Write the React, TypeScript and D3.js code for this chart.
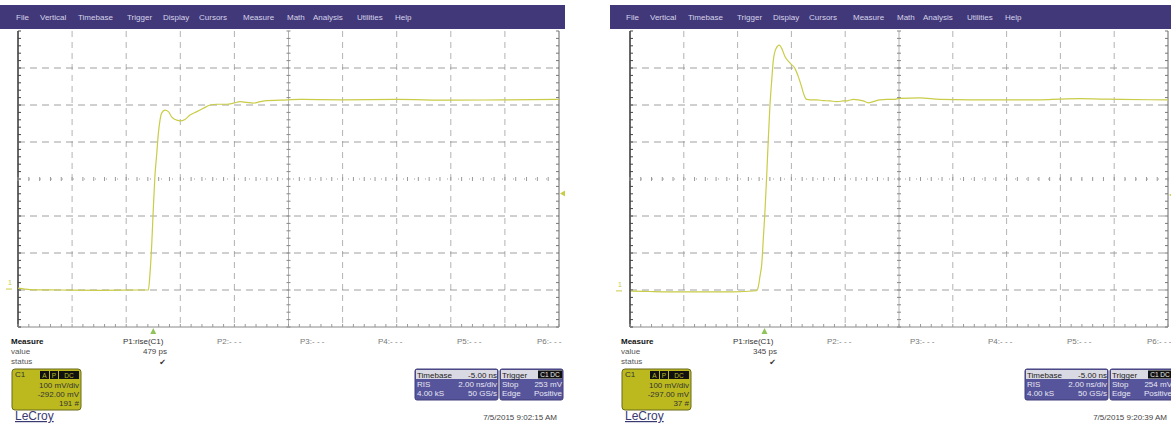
import React from "react";
import * as d3 from "d3";

const menuItems = ["File", "Vertical", "Timebase", "Trigger", "Display", "Cursors", "Measure", "Math", "Analysis", "Utilities", "Help"];
const menuX = [16, 40, 78, 127, 163, 199, 243, 287, 313, 357, 395];

// Left capture (time in ns relative to trigger, voltage in mV)
const leftTimeNs = [-5.0, -4.56, -3.45, -1.97, -0.49, -0.18, -0.12, -0.06, 0.0, 0.06, 0.13, 0.19, 0.25, 0.31, 0.43, 0.56, 0.68, 0.87, 0.99, 1.17, 1.36, 1.61, 1.85, 2.1, 2.35, 2.72, 2.96, 3.21, 3.45, 3.7, 3.95, 4.19, 4.69, 5.43, 7.0, 9.0, 11.0, 13.0, 15.0];
const leftMv = [-3, -7, -8, -9, -8, -8, 37, 109, 208, 298, 361, 416, 451, 470, 478, 474, 460, 451, 449, 453, 465, 474, 483, 492, 494, 494, 497, 501, 499, 497, 501, 504, 505, 507, 506, 507, 505, 506, 507];

// Right capture
const rightTimeNs = [-4.96, -4.26, -3.14, -2.4, -1.16, -0.29, -0.23, -0.17, -0.1, -0.04, 0.02, 0.08, 0.14, 0.2, 0.27, 0.33, 0.43, 0.55, 0.64, 0.76, 0.95, 1.13, 1.26, 1.38, 1.47, 1.57, 1.69, 1.94, 2.18, 2.43, 2.68, 2.93, 3.11, 3.3, 3.49, 3.67, 3.86, 4.04, 4.29, 4.54, 4.79, 5.04, 5.78, 6.52, 7.64, 8.75, 10.24, 10.99, 11.73, 12.47, 13.22, 15.0];
const rightMv = [-6, -7, -8, -8, -8, -5, 6, 33, 69, 141, 213, 303, 402, 492, 565, 619, 650, 659, 650, 628, 610, 596, 573, 546, 524, 512, 511, 511, 509, 508, 506, 508, 509, 512, 511, 508, 503, 506, 511, 512, 512, 515, 516, 512, 511, 511, 511, 513, 514, 513, 512, 511];

const paramLabels = ["P1:rise(C1)", "P2:- - -", "P3:- - -", "P4:- - -", "P5:- - -", "P6:- - -"];
const paramX = [123, 217, 300, 378, 457, 537];
const measureRows = ["value", "status"];

const panels = [
  { ox: 0, gx0: 18, gx1: 559, offsetMv: -292, trigMv: 253, trigLabel: "253 mV", offsetLabel: "-292.00 mV", rise: "479 ps", sweeps: "191 #", date: "7/5/2015 9:02:15 AM", t: leftTimeNs, v: leftMv },
  { ox: 610, gx0: 630, gx1: 1168, offsetMv: -297, trigMv: 254, trigLabel: "254 mV", offsetLabel: "-297.00 mV", rise: "345 ps", sweeps: "37 #", date: "7/5/2015 9:20:39 AM", t: rightTimeNs, v: rightMv },
];

const GY0 = 31;
const GY1 = 327;
const FONT = "'Liberation Sans', Arial, sans-serif";
const TRACE = "#c9cc48";

function Panel({ p }: { p: (typeof panels)[number] }) {
  const { ox, gx0, gx1 } = p;
  const center = -p.offsetMv;
  const x = d3.scaleLinear().domain([-5, 15]).range([gx0, gx1]);
  const y = d3.scaleLinear().domain([center - 400, center + 400]).range([GY1, GY0]);
  const pts = p.t.map((t, i) => [t, p.v[i]] as [number, number]);
  const line = d3.line<[number, number]>().x((d) => x(d[0])).y((d) => y(d[1])).curve(d3.curveMonotoneX);
  const vTicks = d3.range(-5, 15.001, 2);
  const hTicks = d3.range(center - 400, center + 400.001, 100);
  const minorT = d3.range(-5, 15.001, 0.4);
  const minorV = d3.range(center - 400, center + 400.001, 20);
  const xc = x(5);
  const yc = y(center);
  const menuW = ox === 0 ? 565 : 1171 - ox;
  return (
    <g>
      {/* menu bar */}
      <rect x={ox} y={5} width={menuW} height={24} fill="#41387a" />
      {menuItems.map((m, i) => (
        <text key={m} x={ox + menuX[i]} y={20} fontSize={8} fill="#d6d4e8" fontFamily={FONT}>
          {m}
        </text>
      ))}
      {/* grid */}
      {vTicks.map((t, i) => (
        <line key={"v" + i} x1={x(t)} x2={x(t)} y1={GY0} y2={GY1}
          stroke={i === 0 ? "#333" : i === vTicks.length - 1 ? "#666" : "#9a9a9a"}
          strokeWidth={i === 0 ? 1.5 : 1}
          strokeDasharray={i === 0 || i === vTicks.length - 1 || i === 5 ? undefined : "6,5"}
          opacity={i === 0 || i === vTicks.length - 1 ? 1 : 0.75} />
      ))}
      {hTicks.map((v, i) => (
        <line key={"h" + i} x1={gx0} x2={gx1} y1={y(v)} y2={y(v)}
          stroke={i === 0 ? "none" : i === hTicks.length - 1 ? "none" : "#8a8a8a"}
          strokeDasharray={i === 4 ? "1,10" : "7,5"} opacity={0.8} />
      ))}
      <line x1={gx0} x2={gx1} y1={GY1} y2={GY1} stroke="#888" />
      {/* minor ticks on center lines and borders */}
      {minorV.map((v, i) => (
        <g key={"mv" + i}>
          <line x1={xc - 2} x2={xc + 2} y1={y(v)} y2={y(v)} stroke="#888" />
          <line x1={gx0} x2={gx0 + 3} y1={y(v)} y2={y(v)} stroke="#444" />
          <line x1={gx1 - 3} x2={gx1} y1={y(v)} y2={y(v)} stroke="#777" />
        </g>
      ))}
      {minorT.map((t, i) => (
        <g key={"mt" + i}>
          <line x1={x(t)} x2={x(t)} y1={yc - 2} y2={yc + 2} stroke="#999" />
          <line x1={x(t)} x2={x(t)} y1={GY1 - 3} y2={GY1} stroke="#999" />
        </g>
      ))}
      {/* trace */}
      <path d={line(pts) || ""} fill="none" stroke={TRACE} strokeWidth={1.2} />
      {/* ground marker */}
      <text x={ox + 8} y={y(0) - 2} fontSize={7} fill={TRACE} fontFamily={FONT}>1</text>
      <path d={`M${ox + 6},${y(0) + 2} h6`} stroke={TRACE} strokeWidth={1} />
      {/* trigger level marker */}
      <path d={`M${gx1 + 1},${y(p.trigMv)} l5,-3 v6 z`} fill={TRACE} />
      {/* trigger time marker */}
      <path d={`M${x(0)},${GY1 + 1} l-3,6 h6 z`} fill="#8fc45a" />
      {/* measure area */}
      <text x={ox + 11} y={344} fontSize={8} fontWeight="bold" fill="#111" fontFamily={FONT}>Measure</text>
      {measureRows.map((r, i) => (
        <text key={r} x={ox + 11} y={354 + i * 10} fontSize={8} fill="#555" fontFamily={FONT}>{r}</text>
      ))}
      {paramLabels.map((l, i) => (
        <text key={l} x={ox + paramX[i]} y={344} fontSize={8} fill={i === 0 ? "#333" : "#777"} fontFamily={FONT}>{l}</text>
      ))}
      <text x={ox + 167} y={354} fontSize={8} fill="#444" textAnchor="end" fontFamily={FONT}>{p.rise}</text>
      <text x={ox + 166} y={365} fontSize={8} fill="#333" textAnchor="end" fontFamily="'DejaVu Sans'">✔</text>
      {/* channel descriptor */}
      <rect x={ox + 12} y={369} width={69} height={41} rx={3} fill="#bbb91e" stroke="#6a6a1a" />
      <text x={ox + 15} y={377} fontSize={8} fill="#333" fontFamily={FONT}>C1</text>
      <rect x={ox + 40} y={371} width={9} height={8} fill="#111" />
      <rect x={ox + 50} y={371} width={8} height={8} fill="#111" />
      <rect x={ox + 59} y={371} width={20} height={8} fill="#111" />
      <text x={ox + 44.5} y={377.5} fontSize={6.5} fill="#bbb91e" textAnchor="middle" fontFamily={FONT}>A</text>
      <text x={ox + 54} y={377.5} fontSize={6.5} fill="#bbb91e" textAnchor="middle" fontFamily={FONT}>P</text>
      <text x={ox + 69} y={377.5} fontSize={6.5} fill="#bbb91e" textAnchor="middle" fontFamily={FONT}>DC</text>
      <text x={ox + 79} y={388} fontSize={8} fill="#333" textAnchor="end" fontFamily={FONT}>100 mV/div</text>
      <text x={ox + 79} y={397} fontSize={8} fill="#333" textAnchor="end" fontFamily={FONT}>{p.offsetLabel}</text>
      <text x={ox + 79} y={406} fontSize={8} fill="#333" textAnchor="end" fontFamily={FONT}>{p.sweeps}</text>
      <text x={ox + 15} y={420} fontSize={12} fill="#3a3a72" textDecoration="underline" fontFamily={FONT}>LeCroy</text>
      {/* timebase box */}
      <rect x={ox + 415} y={369} width={83} height={31} rx={2} fill="#56549a" stroke="#3e3c78" />
      <rect x={ox + 416} y={370} width={81} height={9} fill="#d9d9e3" />
      <text x={ox + 417} y={377.5} fontSize={8} fill="#222" fontFamily={FONT}>Timebase</text>
      <text x={ox + 497} y={377.5} fontSize={8} fill="#222" textAnchor="end" fontFamily={FONT}>-5.00 ns</text>
      <text x={ox + 417} y={387} fontSize={8} fill="#e8e8f4" fontFamily={FONT}>RIS</text>
      <text x={ox + 497} y={387} fontSize={8} fill="#e8e8f4" textAnchor="end" fontFamily={FONT}>2.00 ns/div</text>
      <text x={ox + 417} y={396} fontSize={8} fill="#e8e8f4" fontFamily={FONT}>4.00 kS</text>
      <text x={ox + 497} y={396} fontSize={8} fill="#e8e8f4" textAnchor="end" fontFamily={FONT}>50 GS/s</text>
      {/* trigger box */}
      <rect x={ox + 500} y={369} width={63} height={31} rx={2} fill="#56549a" stroke="#3e3c78" />
      <rect x={ox + 501} y={370} width={61} height={9} fill="#d9d9e3" />
      <text x={ox + 502} y={377.5} fontSize={8} fill="#222" fontFamily={FONT}>Trigger</text>
      <rect x={ox + 538} y={370.5} width={24} height={8} fill="#111" />
      <text x={ox + 550} y={377} fontSize={6.5} fill="#eee" textAnchor="middle" fontFamily={FONT}>C1 DC</text>
      <text x={ox + 502} y={387} fontSize={8} fill="#e8e8f4" fontFamily={FONT}>Stop</text>
      <text x={ox + 562} y={387} fontSize={8} fill="#e8e8f4" textAnchor="end" fontFamily={FONT}>{p.trigLabel}</text>
      <text x={ox + 502} y={396} fontSize={8} fill="#e8e8f4" fontFamily={FONT}>Edge</text>
      <text x={ox + 562} y={396} fontSize={8} fill="#e8e8f4" textAnchor="end" fontFamily={FONT}>Positive</text>
      {/* date */}
      <text x={ox + 557} y={420} fontSize={8} fill="#444" textAnchor="end" fontFamily={FONT}>{p.date}</text>
    </g>
  );
}

export default function App() {
  return (
    <svg width={1171} height={423} style={{ position: "absolute", left: 0, top: 0, background: "#fff" }}>
      <rect width={1171} height={423} fill="#fff" />
      {panels.map((p) => (
        <Panel key={p.ox} p={p} />
      ))}
    </svg>
  );
}
